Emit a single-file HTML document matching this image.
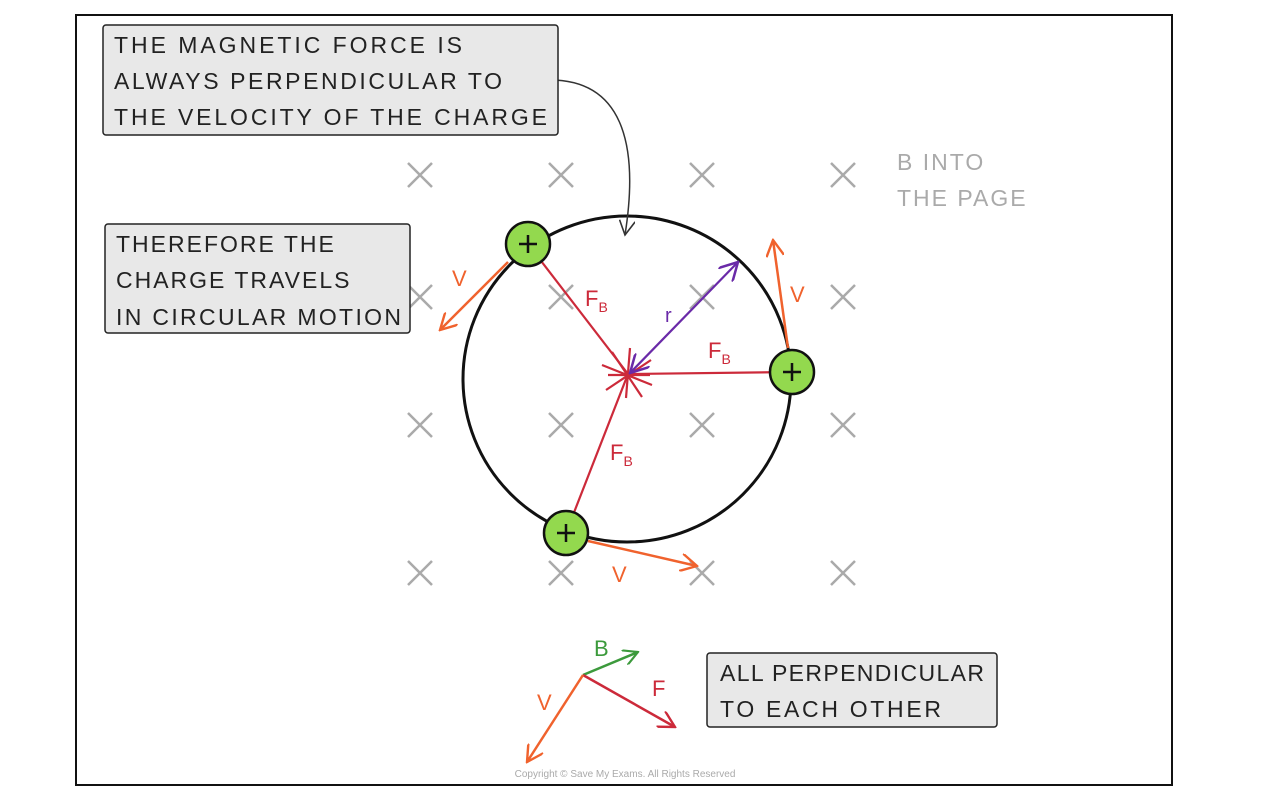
<!DOCTYPE html>
<html><head><meta charset="utf-8"><style>
body{margin:0;background:#fff;width:1262px;height:806px;overflow:hidden}
text{font-family:"Liberation Sans",sans-serif}
.lbl{font-size:23px;letter-spacing:2px;fill:#222}
</style></head><body>
<svg width="1262" height="806" viewBox="0 0 1262 806">
<defs>
<marker id="ao" viewBox="0 0 12 12" refX="11" refY="6" markerWidth="18" markerHeight="18" orient="auto" markerUnits="userSpaceOnUse"><path d="M0,0 L11,6 L0,12" fill="none" stroke="#f0622d" stroke-width="1.6"/></marker>
<marker id="ap" viewBox="0 0 12 12" refX="11" refY="6" markerWidth="20" markerHeight="20" orient="auto-start-reverse" markerUnits="userSpaceOnUse"><path d="M0,0 L11,6 L0,12" fill="none" stroke="#6a2aa8" stroke-width="1.5"/></marker>
<marker id="ag" viewBox="0 0 12 12" refX="11" refY="6" markerWidth="16" markerHeight="16" orient="auto" markerUnits="userSpaceOnUse"><path d="M0,0 L11,6 L0,12" fill="none" stroke="#3c9a3c" stroke-width="1.6"/></marker>
<marker id="ar" viewBox="0 0 12 12" refX="11" refY="6" markerWidth="18" markerHeight="18" orient="auto" markerUnits="userSpaceOnUse"><path d="M0,0 L11,6 L0,12" fill="none" stroke="#cc2a3a" stroke-width="1.6"/></marker>
<marker id="ab" viewBox="0 0 12 12" refX="11" refY="6" markerWidth="16" markerHeight="16" orient="auto" markerUnits="userSpaceOnUse"><path d="M0,0 L11,6 L0,12" fill="none" stroke="#333" stroke-width="1.2"/></marker>
</defs>
<rect x="76" y="15" width="1096" height="770" fill="#fff" stroke="#111" stroke-width="2"/>
<g stroke="#aaa" stroke-width="2.5">
<path d="M408,163l24,24M432,163l-24,24M549,163l24,24M573,163l-24,24M690,163l24,24M714,163l-24,24M831,163l24,24M855,163l-24,24"/>
<path d="M408,285l24,24M432,285l-24,24M549,285l24,24M573,285l-24,24M690,285l24,24M714,285l-24,24M831,285l24,24M855,285l-24,24"/>
<path d="M408,413l24,24M432,413l-24,24M549,413l24,24M573,413l-24,24M690,413l24,24M714,413l-24,24M831,413l24,24M855,413l-24,24"/>
<path d="M408,561l24,24M432,561l-24,24M549,561l24,24M573,561l-24,24M690,561l24,24M714,561l-24,24M831,561l24,24M855,561l-24,24"/>
</g>
<text x="897" y="170" font-size="23" fill="#aaa" letter-spacing="2">B INTO</text>
<text x="897" y="206" font-size="23" fill="#aaa" letter-spacing="2">THE PAGE</text>
<ellipse cx="627" cy="379" rx="164" ry="163" fill="none" stroke="#111" stroke-width="3"/>
<g stroke="#cc2a3a" stroke-width="2.2">
<line x1="528" y1="244" x2="628" y2="374"/><line x1="792" y1="372" x2="628" y2="374"/><line x1="566" y1="533" x2="628" y2="374"/>
<path d="M602,365l50,20M612,352l30,45M630,348l-4,50M606,390l45,-30M608,375l42,0"/>
</g>
<line x1="630" y1="373" x2="738" y2="262" stroke="#6a2aa8" stroke-width="2.2" marker-start="url(#ap)" marker-end="url(#ap)"/>
<text x="665" y="322" font-size="20" fill="#6a2aa8">r</text>
<g fill="#cc2a3a">
<text x="585" y="306" font-size="22">F<tspan font-size="14" dy="6">B</tspan></text>
<text x="708" y="358" font-size="22">F<tspan font-size="14" dy="6">B</tspan></text>
<text x="610" y="460" font-size="22">F<tspan font-size="14" dy="6">B</tspan></text>
</g>
<g stroke="#f0622d" stroke-width="2.5" fill="none">
<line x1="508" y1="262" x2="440" y2="330" marker-end="url(#ao)"/>
<line x1="788" y1="348" x2="773" y2="240" marker-end="url(#ao)"/>
<line x1="588" y1="541" x2="697" y2="566" marker-end="url(#ao)"/>
</g>
<g fill="#f0622d" font-size="22">
<text x="452" y="286">V</text><text x="790" y="302">V</text><text x="612" y="582">V</text>
</g>
<g stroke="#111" stroke-width="2.5">
<circle cx="528" cy="244" r="22" fill="#93d94e"/><circle cx="792" cy="372" r="22" fill="#93d94e"/><circle cx="566" cy="533" r="22" fill="#93d94e"/>
<path d="M519,244h18M528,235v18M783,372h18M792,363v18M557,533h18M566,524v18"/>
</g>
<path d="M550,80 C620,80 640,140 625,235" fill="none" stroke="#333" stroke-width="1.5" marker-end="url(#ab)"/>
<circle cx="550" cy="80" r="3" fill="#fff" stroke="#333" stroke-width="1.5"/>
<g>
<rect x="103" y="25" width="455" height="110" rx="3" fill="#e8e8e8" stroke="#222" stroke-width="1.5"/>
<text class="lbl" x="114" y="53" textLength="350">THE  MAGNETIC  FORCE  IS</text>
<text class="lbl" x="114" y="89" textLength="390">ALWAYS  PERPENDICULAR  TO</text>
<text class="lbl" x="114" y="125" textLength="435">THE  VELOCITY  OF  THE  CHARGE</text>
</g>
<g>
<rect x="105" y="224" width="305" height="109" rx="3" fill="#e8e8e8" stroke="#222" stroke-width="1.5"/>
<text class="lbl" x="116" y="252">THEREFORE  THE</text>
<text class="lbl" x="116" y="288">CHARGE  TRAVELS</text>
<text class="lbl" x="116" y="325" textLength="287">IN  CIRCULAR  MOTION</text>
</g>
<g>
<rect x="707" y="653" width="290" height="74" rx="3" fill="#e8e8e8" stroke="#222" stroke-width="1.5"/>
<text class="lbl" x="720" y="681" textLength="265" style="letter-spacing:1px">ALL  PERPENDICULAR</text>
<text class="lbl" x="720" y="717" textLength="222" style="letter-spacing:1px">TO  EACH  OTHER</text>
</g>
<g stroke-width="2.5" fill="none">
<line x1="583" y1="675" x2="638" y2="652" stroke="#3c9a3c" marker-end="url(#ag)"/>
<line x1="583" y1="675" x2="675" y2="727" stroke="#cc2a3a" marker-end="url(#ar)"/>
<line x1="583" y1="675" x2="527" y2="762" stroke="#f0622d" marker-end="url(#ao)"/>
</g>
<text x="594" y="656" font-size="22" fill="#3c9a3c">B</text>
<text x="652" y="696" font-size="22" fill="#cc2a3a">F</text>
<text x="537" y="710" font-size="22" fill="#f0622d">V</text>
<text x="625" y="777" font-size="10" fill="#aaa" text-anchor="middle">Copyright © Save My Exams. All Rights Reserved</text>
</svg>
</body></html>
